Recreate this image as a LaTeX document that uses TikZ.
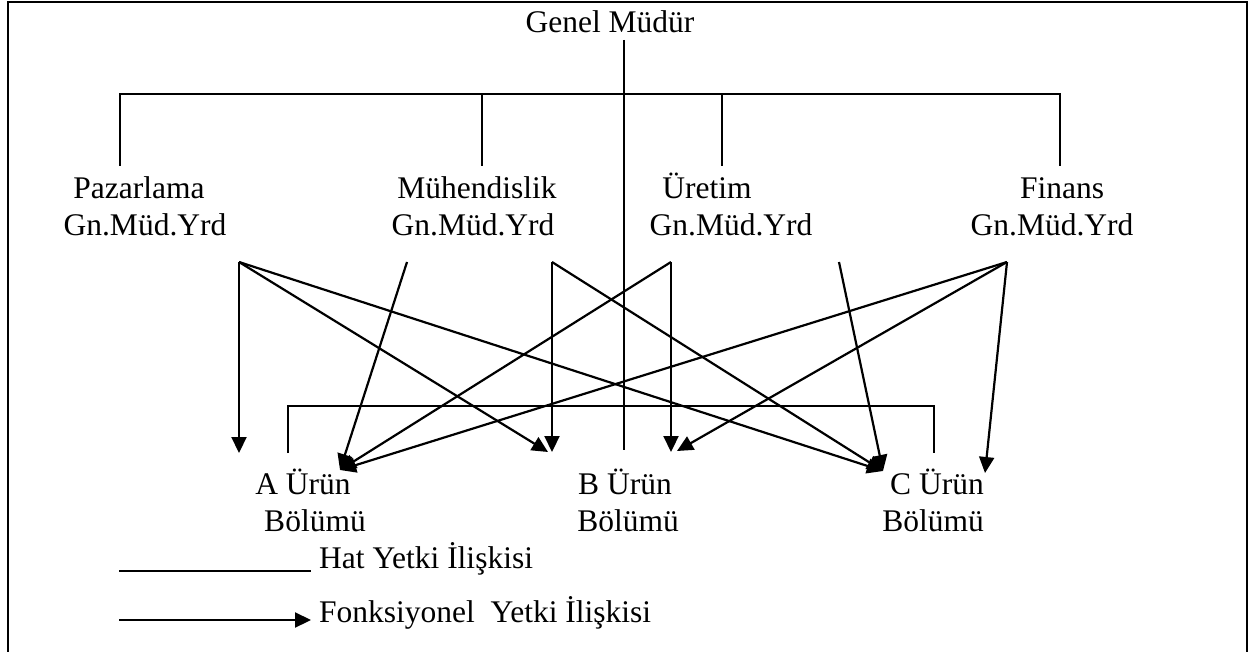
\documentclass[tikz,border=0pt]{standalone}
\usepackage{fontspec}
\setmainfont{Liberation Serif}
\usetikzlibrary{arrows.meta}
\begin{document}
\begin{tikzpicture}[x=1pt,y=-1pt,
  lbl/.style={anchor=base,inner sep=0pt,font=\fontsize{31.5}{36}\selectfont},
  lblw/.style={anchor=base west,inner sep=0pt,font=\fontsize{31.5}{36}\selectfont},
  orgline/.style={line width=1.5pt},
  frameline/.style={line width=1.8pt},
  funcarrow/.style={line width=2.2pt,-{Triangle[length=16pt,width=15pt]}}]
\useasboundingbox (0,0) rectangle (1249,652);

% outer frame (open at the bottom)
\draw[frameline] (8,652) -- (8,2) -- (1247,2) -- (1247,652);

% titles
\node[lbl] (gm) at (610,33) {Genel Müdür};
\node[lbl] (paz1) at (139,199) {Pazarlama};
\node[lbl] (paz2) at (145,236) {Gn.Müd.Yrd};
\node[lbl] (muh1) at (477,199) {Mühendislik};
\node[lbl] (muh2) at (473,236) {Gn.Müd.Yrd};
\node[lbl] (ure1) at (707,199) {Üretim};
\node[lbl] (ure2) at (731,236) {Gn.Müd.Yrd};
\node[lbl] (fin1) at (1062,199) {Finans};
\node[lbl] (fin2) at (1052,236) {Gn.Müd.Yrd};
\node[lbl] (a1) at (303,494) {A Ürün};
\node[lbl] (a2) at (315,531) {Bölümü};
\node[lbl] (b1) at (625,494) {B Ürün};
\node[lbl] (b2) at (628,531) {Bölümü};
\node[lbl] (c1) at (937,494) {C Ürün};
\node[lbl] (c2) at (933,531) {Bölümü};

% line of authority: general manager to deputies
\coordinate (gmtop) at (624,40);
\coordinate (gmbot) at (624,450);
\coordinate (busL) at (120,94);
\coordinate (busR) at (1060,94);
\coordinate (tP) at (120,166);
\coordinate (tM) at (482,166);
\coordinate (tU) at (722,166);
\coordinate (tF) at (1060,166);
\draw[orgline] (gmtop) -- (gmbot);
\draw[orgline] (tP) -- (busL) -- (busR) -- (tF);
\draw[orgline] (tM) -- (tM |- busL);
\draw[orgline] (tU) -- (tU |- busL);

% bracket over the product divisions
\coordinate (brL) at (288,453);
\coordinate (brR) at (934,453);
\draw[orgline] (brL) -- (288,406) -- (934,406) -- (brR);

% functional authority: arrow sources
\coordinate (sP) at (239,262);
\coordinate (sM1) at (407,262);
\coordinate (sM2) at (552,262);
\coordinate (sU1) at (671,262);
\coordinate (sU2) at (839,262);
\coordinate (sF) at (1007,262);
% arrow targets
\coordinate (tA) at (340,470);
\coordinate (tAl) at (239,453);
\coordinate (tBl) at (548,452);
\coordinate (tBm) at (552,452);
\coordinate (tBu) at (671,452);
\coordinate (tBf) at (677,451);
\coordinate (tC) at (883,471);
\coordinate (tCr) at (985,473);

\draw[funcarrow] (sP) -- (tAl);
\draw[funcarrow] (sP) -- (tBl);
\draw[funcarrow] (sP) -- (tC);
\draw[funcarrow] (sM1) -- (tA);
\draw[funcarrow] (sM2) -- (tBm);
\draw[funcarrow] (sM2) -- (tC);
\draw[funcarrow] (sU1) -- (tBu);
\draw[funcarrow] (sU1) -- (tA);
\draw[funcarrow] (sU2) -- (tC);
\draw[funcarrow] (sF) -- (tA);
\draw[funcarrow] (sF) -- (tBf);
\draw[funcarrow] (sF) -- (tCr);

% legend
\coordinate (l1a) at (119,571);
\coordinate (l1b) at (311,571);
\coordinate (l2a) at (119,620);
\coordinate (l2b) at (311,620);
\draw[line width=1.8pt] (l1a) -- (l1b);
\draw[funcarrow] (l2a) -- (l2b);
\node[lblw] (leg1) at (319,568) {Hat Yetki İlişkisi};
\node[lblw] (leg2) at (319,622) {Fonksiyonel\ \ Yetki İlişkisi};
\end{tikzpicture}
\end{document}
